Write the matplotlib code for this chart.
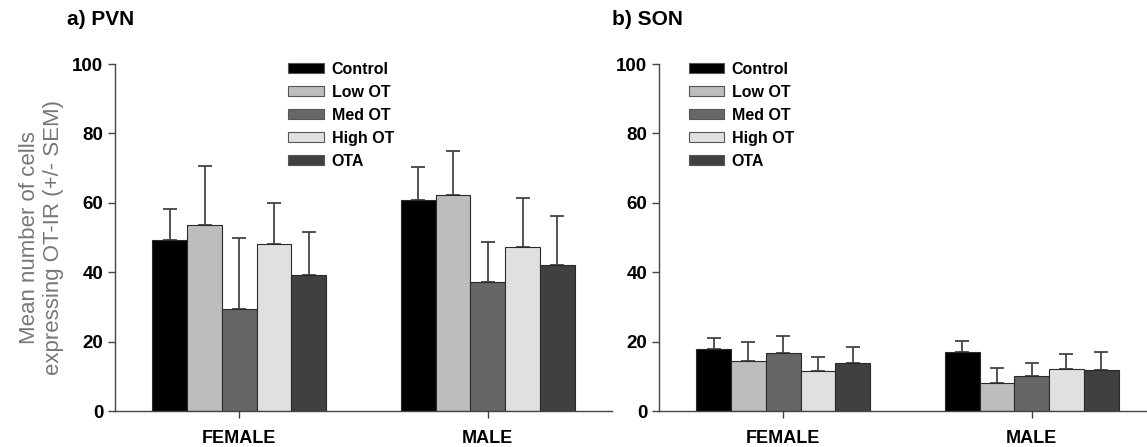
import numpy as np
import matplotlib
matplotlib.use("Agg")
import matplotlib.pyplot as plt
from matplotlib.patches import Patch

plt.rcParams['font.family'] = ['Liberation Sans', 'DejaVu Sans']

groups = ["FEMALE", "MALE"]
treatments = ["Control", "Low OT", "Med OT", "High OT", "OTA"]
colors = ["#000000", "#bdbdbd", "#666666", "#e0e0e0", "#404040"]

# PVN means and upper error (mean + SEM), rows = treatments, cols = female/male
pvn_mean = [[49.3, 60.9], [53.6, 62.2], [29.4, 37.1], [48.2, 47.2], [39.3, 42.1]]
pvn_top = [[58.3, 70.4], [70.6, 74.9], [49.9, 48.7], [60.0, 61.4], [51.5, 56.2]]

# SON
son_mean = [[17.8, 16.9], [14.4, 8.1], [16.7, 10.1], [11.5, 12.1], [13.8, 11.7]]
son_top = [[21.1, 20.1], [20.0, 12.3], [21.7, 13.9], [15.6, 16.4], [18.5, 17.0]]

fig = plt.figure(figsize=(11.47, 4.47), dpi=100)
ax1 = fig.add_axes([0.1003, 0.0805, 0.4333, 0.7763])
ax2 = fig.add_axes([0.5745, 0.0805, 0.4333, 0.7763])

x = np.arange(1, len(groups) + 1)
width = 0.14


def draw_panel(ax, means, tops, title, title_x):
    for i, (m, t, c) in enumerate(zip(means, tops, colors)):
        pos = x + (i - 2) * width
        m = np.array(m)
        err = np.array(t) - m
        ax.bar(pos, m, width, color=c, edgecolor="#2a2a2a", linewidth=0.8, zorder=2)
        ax.errorbar(pos, m, yerr=[np.zeros_like(err), err], fmt="none",
                    ecolor="#444444", elinewidth=1.3, capsize=5, capthick=1.3, zorder=1)
    ax.set_xlim(0.5, 2.5)
    ax.set_ylim(0, 100)
    ax.set_yticks([0, 20, 40, 60, 80, 100])
    ax.set_xticks(x)
    ax.set_xticklabels(groups)
    for s in ["top", "right"]:
        ax.spines[s].set_visible(False)
    for s in ["left", "bottom"]:
        ax.spines[s].set_color("#444444")
        ax.spines[s].set_linewidth(1.0)
    ax.tick_params(axis="both", colors="#444444", labelcolor="black", labelsize=13.5,
                   length=5, width=1.0)
    ax.tick_params(axis="x", pad=9, labelsize=13)
    for lab in ax.get_xticklabels() + ax.get_yticklabels():
        lab.set_fontweight("bold")
    handles = [Patch(facecolor=c, edgecolor="#555555", linewidth=0.8, label=t)
               for t, c in zip(treatments, colors)]
    fig.text(title_x, 0.945, title, fontsize=15, fontweight="bold")
    return handles


legend_kw = dict(loc="upper left", frameon=False, handlelength=2.2, handleheight=0.55,
                 labelspacing=0.5, handletextpad=0.5, borderaxespad=0,
                 prop={"weight": "bold", "size": 11.5})

h = draw_panel(ax1, pvn_mean, pvn_top, "a) PVN", 0.058)
ax1.legend(handles=h, bbox_to_anchor=(0.336, 1.025), **legend_kw)
ax1.set_ylabel("Mean number of cells\nexpressing OT-IR (+/- SEM)", fontsize=16,
               color="#777777", labelpad=6)

h = draw_panel(ax2, son_mean, son_top, "b) SON", 0.534)
ax2.legend(handles=h, bbox_to_anchor=(0.047, 1.025), **legend_kw)

fig.savefig("out.png", dpi=100)
